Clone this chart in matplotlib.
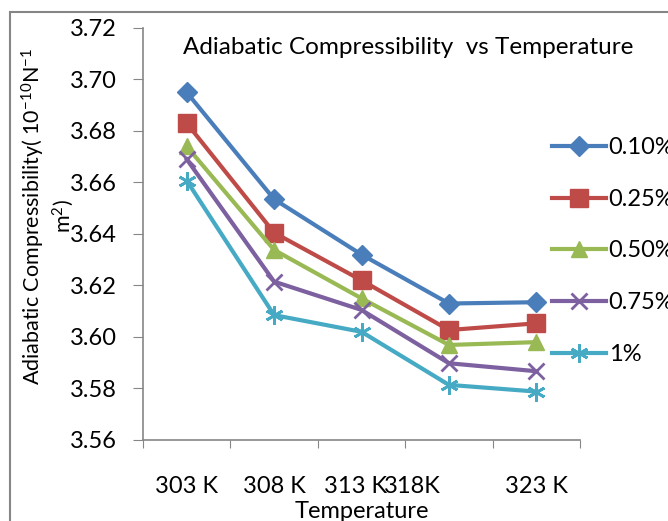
import matplotlib.pyplot as plt
from matplotlib.patches import Rectangle

temps = ['303 K', '308 K', '313 K', '318K', '323 K']
series = ['0.10%', '0.25%', '0.50%', '0.75%', '1%']

conc_010 = [3.695, 3.6535, 3.632, 3.613, 3.6135]
conc_025 = [3.683, 3.6405, 3.622, 3.6027, 3.6053]
conc_050 = [3.674, 3.6338, 3.615, 3.5969, 3.5980]
conc_075 = [3.669, 3.6215, 3.6105, 3.5898, 3.5867]
conc_100 = [3.6607, 3.6085, 3.602, 3.5814, 3.5788]

values = [conc_010, conc_025, conc_050, conc_075, conc_100]
colors = ['#4a7ebb', '#be4b48', '#98b954', '#7d60a0', '#46aac5']
markers = ['D', 's', '^', 'x', (6, 2, 0)]
msizes = [10, 13, 11, 12, 13]

plt.rcParams['font.family'] = ['Lato', 'DejaVu Sans']
plt.rcParams['mathtext.default'] = 'regular'
fs = 17

fig = plt.figure(figsize=(6.68, 5.21), dpi=100)
ax = fig.add_axes([0.2141, 0.1555, 0.6542, 0.7908])

x = list(range(len(temps)))
for vals, name, c, m, ms in zip(values, series, colors, markers, msizes):
    ax.plot(x, vals, color=c, lw=3, marker=m, ms=ms, mew=2 if m in ('x', (6, 2, 0)) else 1,
            mec=c, mfc=c, label=name)

ax.set_ylim(3.56, 3.72)
ax.set_yticks([3.56 + 0.02 * i for i in range(9)])
ax.set_yticklabels(['%.2f' % (3.56 + 0.02 * i) for i in range(9)], fontsize=fs)
ax.set_xlim(-0.5, 4.5)
ax.set_xticks([i - 0.5 for i in range(6)])
ax.set_xticklabels([])
# labels sit where the category text was laid out
label_pos = [0, 1, 1.93, 2.58, 4]
ax.set_xticks(label_pos, minor=True)
ax.set_xticklabels(temps, minor=True, fontsize=fs)
ax.tick_params(axis='x', which='minor', length=0, pad=26)
ax.tick_params(axis='x', which='major', length=6, color='#868686', direction='out')
ax.tick_params(axis='y', length=7, color='#868686', direction='out', pad=12)

for s in ['top', 'right']:
    ax.spines[s].set_visible(False)
for s in ['left', 'bottom']:
    ax.spines[s].set_color('#868686')
    ax.spines[s].set_linewidth(1.2)

ax.set_xlabel('Temperature', fontsize=fs, labelpad=3)
fig.text(0.611, 0.908, 'Adiabatic Compressibility  vs Temperature', ha='center',
         va='center', fontsize=17.5)
fig.text(0.072, 0.585, 'Adiabatic Compressibility( 10$^{-10}$N$^{-1}$\nm$^2$)',
         rotation=90, ha='center', va='center', multialignment='center',
         fontsize=15.5, linespacing=1.2)

leg = ax.legend(loc='upper left', bbox_to_anchor=(0.812, 0.755),
                bbox_transform=fig.transFigure, frameon=False, fontsize=fs,
                handlelength=2.3, handletextpad=0.1, labelspacing=1.3,
                borderaxespad=0)

fig.patches.append(Rectangle((10 / 668, -0.1), 1.2, 1 - 12 / 521 + 0.1,
                             transform=fig.transFigure, fill=False,
                             edgecolor='#868686', lw=1.5))

fig.savefig('out.png', dpi=100)
